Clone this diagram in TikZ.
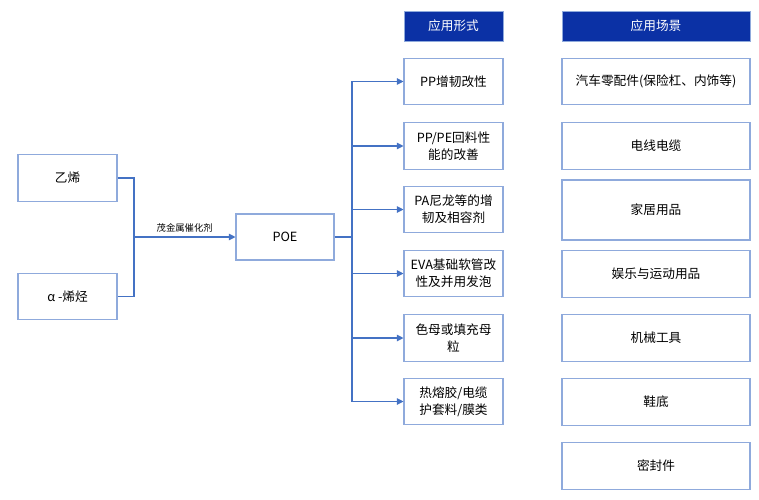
\documentclass[tikz,border=0pt]{standalone}
\usepackage{fontspec}
\setmainfont{Noto Sans CJK SC}
\usetikzlibrary{arrows.meta}
\definecolor{lineblue}{HTML}{4472C4}
\definecolor{boxblue}{HTML}{8FAADC}
\definecolor{headblue}{HTML}{0B31A5}
\tikzset{
  box/.style={draw=boxblue, thick, fill=white, align=center, inner sep=2pt, font=\fontsize{9.5}{13}\selectfont},
  head/.style={fill=headblue, draw=boxblue, text=white, inner sep=0pt, font=\fontsize{9.5}{13}\selectfont},
  link/.style={lineblue, thick},
}
\begin{document}
\begin{tikzpicture}[x=0.75pt, y=-0.75pt]
  \useasboundingbox (0,0) rectangle (759,499);

	%inputs
    \node[box, minimum width=74.25pt, minimum height=35pt] (eth) at (67.5,178) {乙烯};
    \node[box, minimum width=74.25pt, minimum height=35pt] (alpha) at (67.5,296.5) {α -烯烃};
    \node[box, minimum width=73.5pt, minimum height=34.5pt] (poe) at (285,237) {POE};

	%headers
    \node[head, minimum width=74.25pt, minimum height=22.5pt] (hform) at (453.5,26) {应用形式};
    \node[head, minimum width=141pt, minimum height=22.5pt] (hscene) at (656,26) {应用场景};

	%forms
    \foreach \y/\txt/\name in {81.5/{PP增韧改性}/f1, 146/{PP/PE回料性\\能的改善}/f2, 209.5/{PA尼龙等的增\\韧及相容剂}/f3,
                               273.5/{EVA基础软管改\\性及并用发泡}/f4, 338/{色母或填充母\\粒}/f5, 401.5/{热熔胶/电缆\\护套料/膜类}/f6}{
         \node[box, minimum width=74.25pt, minimum height=35pt, text width=66pt] (\name) at (453.5,\y) {\txt};
    }

	%scenes
    \foreach \y/\h/\txt/\name in {81.5/35/{汽车零配件(保险杠、内饰等)}/s1, 146/35/电线电缆/s2, 210/45/家居用品/s3,
                                  274/35/娱乐与运动用品/s4, 338/35/机械工具/s5, 402/35/鞋底/s6, 466/35/密封件/s7}{
         \node[box, minimum width=141pt, minimum height=\h pt] (\name) at (656,\y) {\txt};
    }

	%connectors
    \coordinate (jin) at (134,237);
    \coordinate (jout) at (352,237);
    \draw[link] (eth.east) -| (jin);
    \draw[link] (alpha.east) -| (jin);
    \draw[link, -{Triangle[width=5pt,length=5pt]}] (jin) -- node[above, black, font=\fontsize{7}{9}\selectfont] {茂金属催化剂} (poe.west);
    \draw[link] (poe.east) -- (jout);
    \foreach \name in {f1,f2,f3,f4,f5,f6}{
         \draw[link, -{Triangle[width=5pt,length=5pt]}] (jout) |- (\name.west);
    }

\end{tikzpicture}
\end{document}
